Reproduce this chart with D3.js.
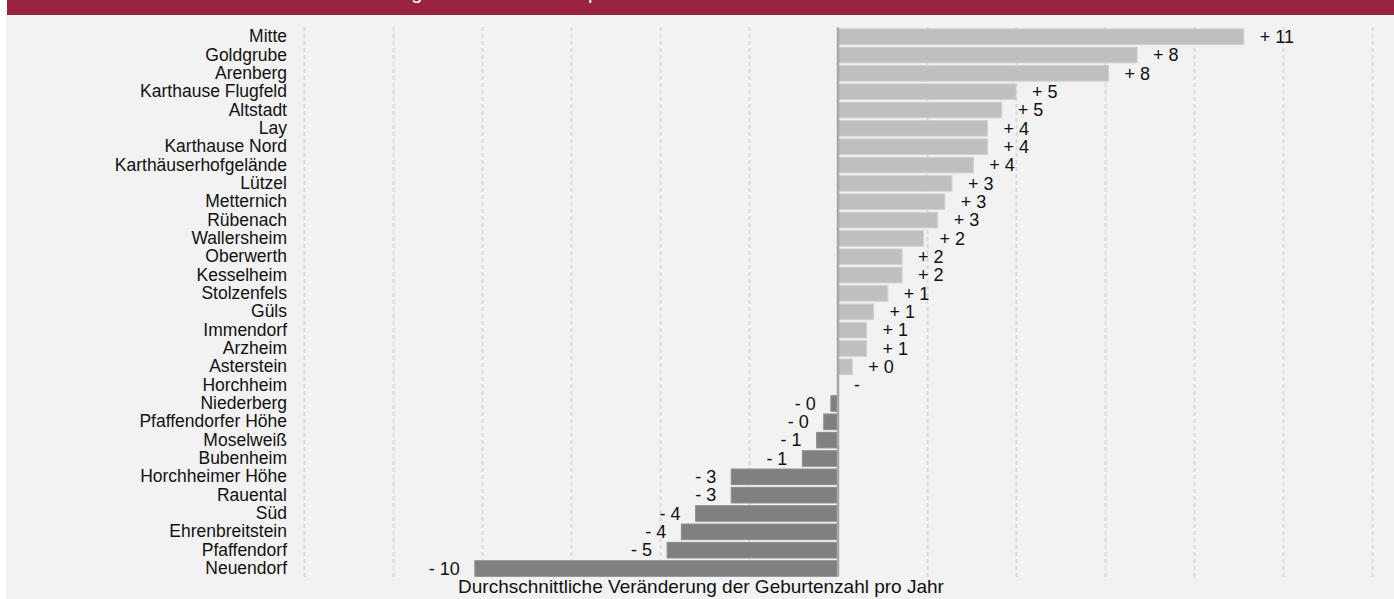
<!DOCTYPE html>
<html>
<head>
<meta charset="utf-8">
<script src="https://cdn.jsdelivr.net/npm/d3@7"></script>
<style>
  body { margin: 0; background: #fff; }
  svg { display: block; font-family: "Liberation Sans", Arial, sans-serif; }
</style>
</head>
<body>
<div id="chart"></div>
<script>
const districts = ['Mitte', 'Goldgrube', 'Arenberg', 'Karthause Flugfeld', 'Altstadt', 'Lay',
  'Karthause Nord', 'Karthäuserhofgelände', 'Lützel', 'Metternich', 'Rübenach', 'Wallersheim',
  'Oberwerth', 'Kesselheim', 'Stolzenfels', 'Güls', 'Immendorf', 'Arzheim', 'Asterstein',
  'Horchheim', 'Niederberg', 'Pfaffendorfer Höhe', 'Moselweiß', 'Bubenheim', 'Horchheimer Höhe',
  'Rauental', 'Süd', 'Ehrenbreitstein', 'Pfaffendorf', 'Neuendorf']
const changes = [11.4, 8.4, 7.6, 5.0, 4.6, 4.2, 4.2, 3.8, 3.2, 3.0, 2.8, 2.4, 1.8, 1.8, 1.4, 1.0,
  0.8, 0.8, 0.4, 0, -0.2, -0.4, -0.6, -1.0, -3.0, -3.0, -4.0, -4.4, -4.8, -10.2]
const gridValues = [-15, -12.5, -10, -7.5, -5, -2.5, 2.5, 5, 7.5, 10, 12.5, 15]
const titleText = 'Durchschnittliche Veränderung der Geburtenzahl pro Jahr nach Stadtteilen'
const axisTitle = 'Durchschnittliche Veränderung der Geburtenzahl pro Jahr'

const width = 1394, height = 599
const data = districts.map((d, i) => ({ name: d, value: changes[i] }))

const fmt = v => {
  const r = Math.round(Math.abs(v))
  if (v === 0) return '-'
  return (v > 0 ? '+ ' : '- ') + r
}

const svg = d3.select('#chart').append('svg')
  .attr('width', width)
  .attr('height', height)

// panel + header bar
svg.append('rect').attr('x', 6).attr('y', 15).attr('width', width - 6).attr('height', height - 15)
  .attr('fill', '#f2f2f2')
svg.append('rect').attr('x', 7).attr('y', 0).attr('width', width - 7).attr('height', 15)
  .attr('fill', '#9a233f')
// header title sits mostly above the visible area, as in the original
svg.append('text').attr('x', 150).attr('y', -1)
  .attr('fill', '#fff').attr('font-size', 20).text(titleText)

const x = d3.scaleLinear().domain([-15, 15]).range([304, 1372])
const y = d3.scaleBand().domain(districts).range([27.6, 577.6]).paddingInner(0.15).paddingOuter(0.07)

// dashed grid
const grid = svg.append('g')
  .attr('transform', `translate(0, 577)`)
  .call(d3.axisBottom(x).tickValues(gridValues).tickSize(-550).tickFormat(''))
grid.select('.domain').remove()
grid.selectAll('.tick line')
  .attr('stroke', '#d9d9d9')
  .attr('stroke-width', 2)
  .attr('stroke-dasharray', '4,3')

// bars
svg.selectAll('rect.bar').data(data).enter().append('rect').attr('class', 'bar')
  .attr('x', d => x(Math.min(0, d.value)))
  .attr('y', d => y(d.name))
  .attr('width', d => Math.abs(x(d.value) - x(0)))
  .attr('height', y.bandwidth())
  .attr('fill', d => d.value >= 0 ? '#bfbfbf' : '#808080')
  .attr('stroke', d => d.value >= 0 ? '#d0d0d0' : '#8c8c8c')
  .attr('stroke-width', 1)

// zero line
svg.append('line')
  .attr('x1', x(0)).attr('x2', x(0))
  .attr('y1', 27.5).attr('y2', 576)
  .attr('stroke', '#a6a6a6').attr('stroke-width', 2.5)

// category labels
const yAxis = svg.append('g')
  .attr('transform', 'translate(296, 0)')
  .call(d3.axisLeft(y).tickSize(0).tickPadding(9))
yAxis.select('.domain').remove()
yAxis.selectAll('text')
  .attr('font-family', '"Liberation Sans", Arial, sans-serif')
  .attr('font-size', 17.5)
  .attr('fill', '#111')

// value labels
svg.selectAll('text.val').data(data).enter().append('text').attr('class', 'val')
  .attr('x', d => d.value >= 0 ? x(d.value) + 16 : x(d.value) - 15)
  .attr('y', d => y(d.name) + y.bandwidth() / 2)
  .attr('dy', '0.35em')
  .attr('text-anchor', d => d.value >= 0 ? 'start' : 'end')
  .attr('font-size', 18)
  .attr('fill', '#111')
  .text(d => fmt(d.value))

svg.append('text')
  .attr('x', 701).attr('y', 593)
  .attr('text-anchor', 'middle')
  .attr('font-size', 19)
  .attr('fill', '#111')
  .text(axisTitle)
</script>
</body>
</html>
